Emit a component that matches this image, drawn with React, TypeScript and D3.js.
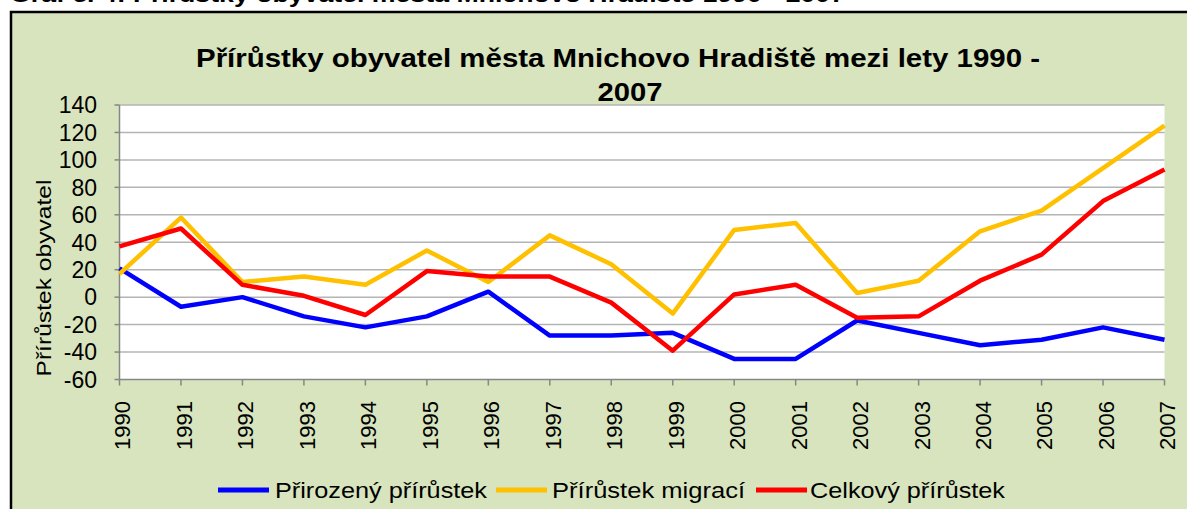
import React from 'react';
import { scaleLinear, scalePoint, line } from 'd3';

const years = ['1990', '1991', '1992', '1993', '1994', '1995', '1996', '1997', '1998',
  '1999', '2000', '2001', '2002', '2003', '2004', '2005', '2006', '2007'];

const natural = [21, -7, 0, -14, -22, -14, 4, -28, -28, -26, -45, -45, -17, -26, -35, -31, -22, -31];
const migration = [17, 58, 11, 15, 9, 34, 11, 45, 24, -12, 49, 54, 3, 12, 48, 63, 94, 125];
const total = [37, 50, 9, 1, -13, 19, 15, 15, -4, -39, 2, 9, -15, -14, 12, 31, 70, 93];

const yTicks = [-60, -40, -20, 0, 20, 40, 60, 80, 100, 120, 140];

const seriesNames = ['Přirozený přírůstek', 'Přírůstek migrací', 'Celkový přírůstek'];
const seriesColors = ['#0000FF', '#FFC000', '#FF0000'];

const App = () => {
  const W = 1187;
  const H = 509;
  const left = 119.5;
  const right = 1164.5;
  const top = 105;
  const bottom = 379.5;

  const x = scalePoint<string>().domain(years).range([left, right]);
  const y = scaleLinear().domain([-60, 140]).range([bottom, top]);

  const dataLine = line<number>()
    .x((v, i) => x(years[i]) as number)
    .y(v => y(v));

  const series = [natural, migration, total];

  // legend layout: sample line start, text start, measured text width
  const legend = [
    { lx: 218, tx: 275, tw: 212 },
    { lx: 496, tx: 552, tw: 193 },
    { lx: 756, tx: 810, tw: 195 },
  ];

  const font = '"Liberation Sans", Arial, sans-serif';

  return (
    <div style={{ position: 'absolute', left: 0, top: 0 }}>
      <svg width={W} height={H} style={{ display: 'block' }} fontFamily={font}>
        <rect x={0} y={0} width={W} height={H} fill="#fff" />
        {/* caption of the page, cut off by the crop like in the source */}
        <text x={10} y={2} fontSize={22} fontWeight="bold" fill="#000"
          textLength={835} lengthAdjust="spacingAndGlyphs">
          Graf č. 4: Přírůstky obyvatel města Mnichovo Hradiště 1990 - 2007
        </text>
        {/* chart area */}
        <rect x={11} y={12} width={W} height={H} fill="#D7E4BD" stroke="#000" strokeWidth={2.5} />

        {/* title */}
        <text x={618} y={67} textAnchor="middle" fontSize={26} fontWeight="bold" fill="#000"
          textLength={844} lengthAdjust="spacingAndGlyphs">
          Přírůstky obyvatel  města Mnichovo Hradiště mezi lety 1990 -
        </text>
        <text x={630} y={101} textAnchor="middle" fontSize={26} fontWeight="bold" fill="#000"
          textLength={65} lengthAdjust="spacingAndGlyphs">
          2007
        </text>

        {/* plot area */}
        <rect x={left} y={top} width={right - left} height={bottom - top} fill="#fff" />
        {yTicks.map(t => (
          <g key={t}>
            {t !== -60 && (
              <line x1={left} x2={right} y1={y(t)} y2={y(t)} stroke="#B4B4B4" strokeWidth={1.5} />
            )}
            <line x1={left - 5} x2={left} y1={y(t)} y2={y(t)} stroke="#868686" strokeWidth={1.5} />
            <text x={97} y={y(t)} dy="0.36em" textAnchor="end" fontSize={23} fill="#000">
              {t}
            </text>
          </g>
        ))}
        <line x1={left} x2={left} y1={top} y2={bottom} stroke="#868686" strokeWidth={1.5} />
        <line x1={left} x2={right} y1={bottom} y2={bottom} stroke="#868686" strokeWidth={1.5} />
        {years.map(yr => (
          <g key={yr}>
            <line x1={x(yr)} x2={x(yr)} y1={bottom} y2={bottom + 6} stroke="#868686" strokeWidth={1.5} />
            <text
              transform={`translate(${(x(yr) as number) + 3},401) rotate(-90)`}
              dy="0.36em"
              textAnchor="end"
              fontSize={22}
              fill="#000"
            >
              {yr}
            </text>
          </g>
        ))}

        {/* y axis title */}
        <text
          transform="translate(51,278) rotate(-90)"
          textAnchor="middle"
          fontSize={21}
          textLength={197}
          lengthAdjust="spacingAndGlyphs"
          fill="#000"
        >
          Přírůstek obyvatel
        </text>

        {/* lines */}
        {series.map((s, i) => (
          <path
            key={i}
            d={dataLine(s) || ''}
            fill="none"
            stroke={seriesColors[i]}
            strokeWidth={4.5}
            strokeLinejoin="round"
          />
        ))}

        {/* legend */}
        {legend.map((l, i) => (
          <g key={i}>
            <line x1={l.lx} x2={l.lx + 51} y1={490} y2={490} stroke={seriesColors[i]} strokeWidth={5} />
            <text
              x={l.tx}
              y={498}
              fontSize={22}
              textLength={l.tw}
              lengthAdjust="spacingAndGlyphs"
              fill="#000"
            >
              {seriesNames[i]}
            </text>
          </g>
        ))}
      </svg>
    </div>
  );
};

export default App;
